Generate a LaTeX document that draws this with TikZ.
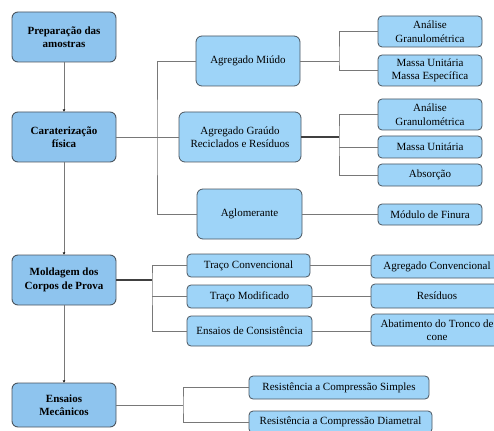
\documentclass[tikz,border=0pt]{standalone}
\usepackage{fontspec}
\setmainfont{Liberation Serif}
\usetikzlibrary{arrows.meta}
\definecolor{leftfill}{RGB}{142,196,238}
\definecolor{rightfill}{RGB}{158,212,248}
\definecolor{bordercol}{RGB}{75,85,95}
\definecolor{linecol}{RGB}{120,120,120}
\tikzset{
  mainbox/.style={draw=bordercol, line width=0.9pt, fill=leftfill, rounded corners=6pt,
    minimum width=104pt, minimum height=50pt, inner sep=0pt, align=center,
    font=\fontsize{11}{13.5}\selectfont\bfseries},
  midbox/.style={draw=bordercol, line width=0.8pt, fill=rightfill, rounded corners=6pt,
    minimum height=50pt, inner sep=0pt, align=center, font=\fontsize{11}{13.5}\selectfont},
  subbox/.style={draw=bordercol, line width=0.8pt, fill=rightfill, rounded corners=4pt,
    inner sep=0pt, align=center, font=\fontsize{11}{13.5}\selectfont},
  conn/.style={draw=linecol, line width=0.7pt},
  strong/.style={draw=black!75, line width=1.1pt},
  flow/.style={draw=linecol, line width=0.8pt, -{Stealth[length=2.5pt,width=2.5pt,black]}}
}
\begin{document}
\begin{tikzpicture}[x=1pt,y=-1pt]
\useasboundingbox (0,0) rectangle (494,430);
\clip (0,0) rectangle (494,430);
% left column
\node[mainbox] (prep) at (64,37) {Preparação das\\amostras};
\node[mainbox] (car) at (64,137) {Caraterização\\física};
\node[mainbox] (mold) at (64,280) {Moldagem dos\\Corpos de Prova};
\node[mainbox, minimum height=44pt] (ens) at (64,405) {Ensaios\\Mecânicos};
% middle column
\node[midbox, minimum width=104pt] (miudo) at (248,61) {Agregado Miúdo};
\node[midbox, minimum width=122pt] (grau) at (240,137) {Agregado Graúdo\\Reciclados e Resíduos};
\node[midbox, minimum width=105pt] (aglo) at (249.5,214) {Aglomerante};
% right column, first block
\node[subbox, minimum width=104pt, minimum height=31pt] (ag1) at (430,31.5) {Análise\\Granulométrica};
\node[subbox, minimum width=104pt, minimum height=31pt] (mu1) at (430,70.5) {Massa Unitária\\Massa Específica};
\node[subbox, minimum width=104pt, minimum height=31pt] (ag2) at (430,114.5) {Análise\\Granulométrica};
\node[subbox, minimum width=104pt, minimum height=22pt] (mu2) at (430,147) {Massa Unitária};
\node[subbox, minimum width=104pt, minimum height=22pt] (abs) at (430,175) {Absorção};
\node[subbox, minimum width=104pt, minimum height=21pt] (mod) at (430,214.5) {Módulo de Finura};
% moldagem block
\node[subbox, minimum width=123pt, minimum height=23pt] (tc) at (248.5,265.5) {Traço Convencional};
\node[subbox, minimum width=125pt, minimum height=23pt] (tm) at (249.5,296.5) {Traço Modificado};
\node[subbox, minimum width=125pt, minimum height=30pt] (ec) at (249.5,331) {Ensaios de Consistência};
\node[subbox, minimum width=132pt, minimum height=23pt] (ac) at (437,266.5) {Agregado Convencional};
\node[subbox, minimum width=132pt, minimum height=24pt] (res) at (437,296) {Resíduos};
\node[subbox, minimum width=132pt, minimum height=32pt] (ab) at (437,330) {Abatimento do Tronco de\\cone};
% ensaios block
\node[subbox, minimum width=180pt, minimum height=23pt] (rs) at (339,387.5) {Resistência a Compressão Simples};
\node[subbox, minimum width=183pt, minimum height=22pt] (rd) at (340.5,422) {Resistência a Compressão Diametral};
% coordinates for brackets
\coordinate (b1) at (157,137);
\coordinate (b2) at (339,61);
\coordinate (b3) at (339,137);
\coordinate (b4) at (152,280);
\coordinate (b5) at (183,405);
% main flow
\draw[flow] (prep.south) -- (car.north);
\draw[flow] (car.south) -- (mold.north);
\draw[flow] (mold.south) -- (ens.north);
% caracterizacao
\draw[conn] (car.east) -- (grau.west);
\draw[conn] (miudo.west) -| (b1) |- (aglo.west);
\draw[conn] (miudo.east) -- (b2);
\draw[conn] (ag1.west) -| (b2) |- (mu1.west);
\draw[strong] (grau.east) -- (b3);
\draw[conn] (ag2.west) -| (b3) |- (abs.west);
\draw[conn] (b3 |- mu2.west) -- (mu2.west);
\draw[conn] (aglo.east) -- (aglo.east -| mod.west);
% moldagem
\draw[strong] (mold.east) -- (b4);
\draw[conn] (tc.west) -| (b4) |- (ec.west);
\draw[conn] (b4 |- tm.west) -- (tm.west);
\draw[conn] (tc.east) -- (tc.east -| ac.west);
\draw[conn] (tm.east) -- (tm.east -| res.west);
\draw[conn] (ec.east) -- (ec.east -| ab.west);
% ensaios
\draw[conn] (ens.east) -- (b5);
\draw[conn] (rs.west) -| (b5) |- (rd.west);
\end{tikzpicture}
\end{document}
